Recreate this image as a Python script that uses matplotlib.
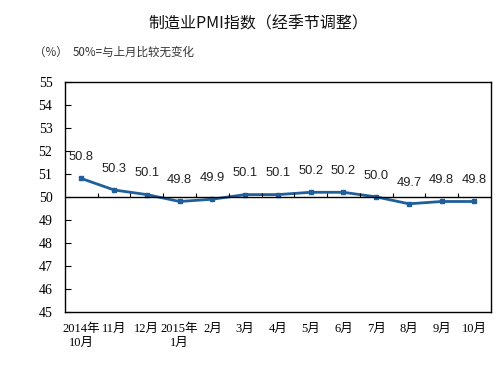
import matplotlib.pyplot as plt
import numpy as np

months = ['2014年\n10月', '11月', '12月', '2015年\n1月', '2月', '3月', '4月',
          '5月', '6月', '7月', '8月', '9月', '10月']
pmi = [50.8, 50.3, 50.1, 49.8, 49.9, 50.1, 50.1, 50.2, 50.2, 50.0, 49.7, 49.8, 49.8]
yticks = list(range(45, 56))

serif = ['Liberation Serif', 'Noto Sans CJK SC']
cjk = ['Noto Sans CJK SC', 'DejaVu Sans']

fig = plt.figure(figsize=(4.98, 3.67), dpi=100)
ax = fig.add_axes([0.1305, 0.150, 0.855, 0.627])

x = np.arange(len(pmi))
ax.plot(x, pmi, color='#1f5f9c', lw=2, marker='s', ms=3.5)
for xi, v in zip(x, pmi):
    ax.annotate(f'{v:.1f}', (xi, v), xytext=(0, 11), textcoords='offset points',
                ha='center', va='bottom', fontsize=9.3, family='Liberation Sans',
                color='#222222')

ax.axhline(50, color='black', lw=1)
# small category-boundary ticks on the 50 line
ax.vlines(x[:-1] + 0.5, 50, 50.15, color='black', lw=0.8)

ax.set_xlim(-0.5, len(pmi) - 0.5)
ax.set_ylim(45, 55)
ax.set_yticks(yticks)
ax.set_yticklabels([str(t) for t in yticks], family=serif, fontsize=10)
ax.tick_params(axis='y', direction='in', length=4, width=0.8, pad=9)
ax.set_xticks(x)
ax.set_xticklabels(months, family=serif, fontsize=9, linespacing=1.25, va='top')
ax.tick_params(axis='x', length=0, pad=8)
for s in ax.spines.values():
    s.set_linewidth(1)

fig.text(0.518, 0.935, '制造业PMI指数（经季节调整）', ha='center', va='center',
         fontsize=11.5, family=cjk, color='#111111')
fig.text(0.068, 0.858, '（%）', ha='left', va='center', fontsize=8.3, family=cjk, color='#333333')
fig.text(0.146, 0.858, '50%=与上月比较无变化', ha='left', va='center', fontsize=8.3,
         family=cjk, color='#333333')

fig.savefig('out.png', dpi=100)
